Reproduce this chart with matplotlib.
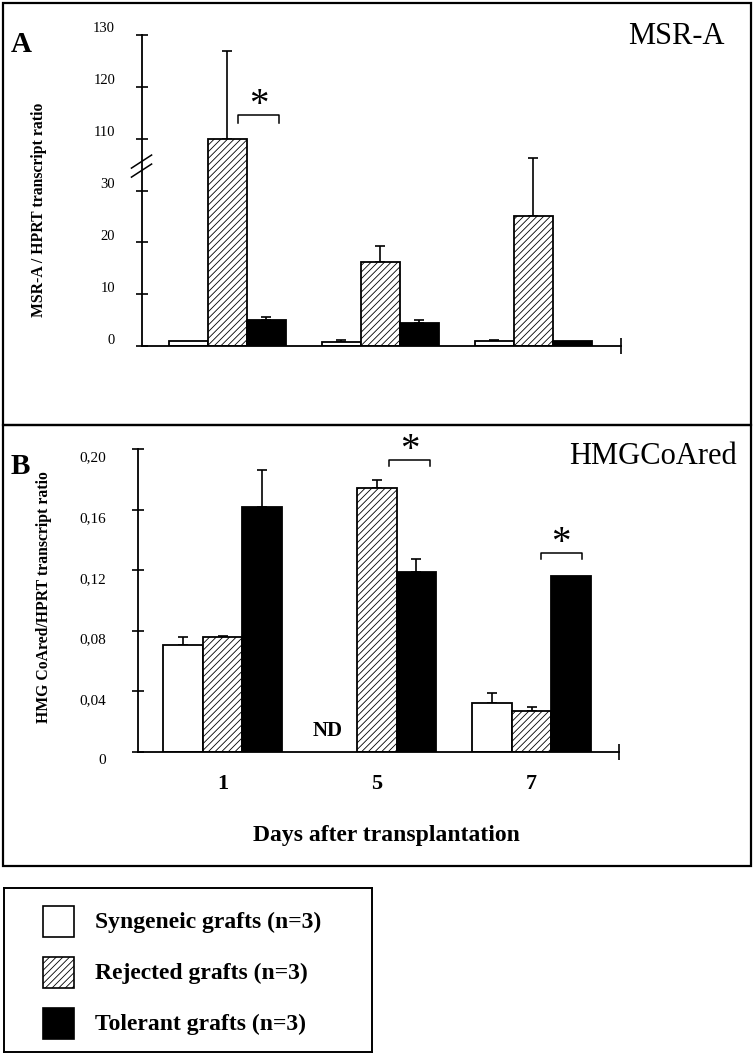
import numpy as np
import matplotlib
matplotlib.use("Agg")
import matplotlib.pyplot as plt
from matplotlib.patches import Rectangle
from matplotlib.transforms import offset_copy

plt.rcParams['font.family'] = ['Liberation Serif', 'DejaVu Serif']
plt.rcParams['hatch.linewidth'] = 0.6

# data
groups = ['Syngeneic grafts (n=3)', 'Rejected grafts (n=3)', 'Tolerant grafts (n=3)']
days = ['1', '5', '7']

# panel A: MSR-A / HPRT
msr_vals = [[1.0, 0.8, 1.0],      # syngeneic
            [110.0, 16.2, 25.0],  # rejected
            [5.1, 4.5, 1.0]]      # tolerant
msr_err = [[0.0, 0.3, 0.2],
           [17.0, 3.0, 11.2],
           [0.5, 0.5, 0.0]]
msr_ticks = [0, 10, 20, 30, 110, 120, 130]

# panel B: HMGCoAred / HPRT (ND = not determined)
hmg_vals = [[0.0706, np.nan, 0.0323],
            [0.0760, 0.1743, 0.0270],
            [0.1617, 0.1188, 0.1160]]
hmg_err = [[0.0055, 0.0, 0.0067],
           [0.0006, 0.0052, 0.0027],
           [0.0243, 0.0086, 0.0]]
hmg_ticks = [0, 0.04, 0.08, 0.12, 0.16, 0.20]
hmg_ticklabels = ['0', '0,04', '0,08', '0,12', '0,16', '0,20']

faces = ['white', 'white', 'black']
hatches = [None, '/////', None]
W, H = 754, 1054
STAR = 28


def brk(v):
    # broken y scale: values above the break are shifted down by 70
    v = np.asarray(v, dtype=float)
    return np.where(v > 100, v - 70, v)


def fig_rect(x0, y0, x1, y1):
    # pixel box -> figure fraction [left, bottom, width, height]
    return [x0 / W, 1 - y1 / H, (x1 - x0) / W, (y1 - y0) / H]


def star(ax, xc, yc):
    # centre the asterisk glyph on (xc, yc)
    tr = offset_copy(ax.transData, fig=fig, x=0, y=-0.47 * STAR, units='points')
    ax.text(xc, yc, '*', transform=tr, ha='center', va='baseline', fontsize=STAR)


fig = plt.figure(figsize=(7.54, 10.54), dpi=100)

# panel frames
for (x0, y0, x1, y1) in [(3, 3, 751, 425), (3, 425, 751, 866)]:
    fig.patches.append(Rectangle((x0 / W, 1 - y1 / H), (x1 - x0) / W, (y1 - y0) / H,
                                 transform=fig.transFigure, fill=False,
                                 edgecolor='black', linewidth=1.6))


def style_axes(ax, xmax):
    for s in ['top', 'right']:
        ax.spines[s].set_visible(False)
    for s in ['left', 'bottom']:
        ax.spines[s].set_linewidth(1.3)
    ax.tick_params(axis='y', direction='inout', length=9, width=1.2, labelleft=False)
    ax.tick_params(axis='x', which='major', length=0)
    ax.set_xticks([xmax], minor=True)
    ax.tick_params(axis='x', which='minor', direction='inout', length=12, width=1.2)


x = np.arange(3)
bw = 0.255
offs = [-bw, 0, bw]

# ---------------- panel A ----------------
axA = fig.add_axes(fig_rect(142, 35, 621, 346))
xmaxA = 2.575
axA.set_xlim(-0.556, xmaxA)
axA.set_ylim(0, 60)
style_axes(axA, xmaxA)
axA.set_xticks(x)
axA.set_xticklabels([])
for i in range(3):
    v = np.array(msr_vals[i])
    top = brk(v + np.array(msr_err[i]))
    axA.bar(x + offs[i], brk(v), bw, color=faces[i], edgecolor='black',
            linewidth=1.3, hatch=hatches[i], zorder=2)
    e = top - brk(v)
    m = e > 0
    axA.errorbar((x + offs[i])[m], brk(v)[m], yerr=[np.zeros(m.sum()), e[m]],
                 fmt='none', ecolor='black', elinewidth=1.2, capsize=3.6,
                 capthick=1.2, zorder=1)
axA.set_yticks(brk(msr_ticks))
labA = offset_copy(axA.get_yaxis_transform(), fig=fig, x=0, y=6, units='dots')
for t in msr_ticks:
    axA.text(-0.056, float(brk(t)), str(t), transform=labA, ha='right',
             va='center', fontsize=10.5)
# axis break marks
for yc in [0.593, 0.564]:
    axA.plot([-0.022, 0.020], [yc - 0.021, yc + 0.021], transform=axA.transAxes,
             color='black', linewidth=1.1, clip_on=False)
# significance bracket day 1
yb = float(brk(114.5))
axA.plot([0.072, 0.072, 0.34, 0.34], [yb - 1.4, yb, yb, yb - 1.4],
         color='black', linewidth=1.1, clip_on=False)
star(axA, 0.206, yb + 3.5)
axA.set_ylabel('MSR-A / HPRT transcript ratio', fontsize=11.3, fontweight='bold')
axA.yaxis.set_label_coords(-0.199, 0.437)
fig.text(11 / W, 1 - 44 / H, 'A', fontsize=21, fontweight='bold', ha='left', va='center')
fig.text(725 / W, 1 - 36 / H, 'MSR-A', fontsize=22, ha='right', va='center')

# ---------------- panel B ----------------
axB = fig.add_axes(fig_rect(138, 449, 619, 752))
xmaxB = 2.566
axB.set_xlim(-0.547, xmaxB)
axB.set_ylim(0, 0.2)
style_axes(axB, xmaxB)
for i in range(3):
    v = np.array(hmg_vals[i])
    e = np.array(hmg_err[i])
    axB.bar(x + offs[i], v, bw, color=faces[i], edgecolor='black',
            linewidth=1.3, hatch=hatches[i], zorder=2)
    m = (e > 0) & ~np.isnan(v)
    axB.errorbar((x + offs[i])[m], v[m], yerr=[np.zeros(m.sum()), e[m]],
                 fmt='none', ecolor='black', elinewidth=1.2, capsize=3.6,
                 capthick=1.2, zorder=1)
axB.set_yticks(hmg_ticks)
labB = offset_copy(axB.get_yaxis_transform(), fig=fig, x=0, y=-9, units='dots')
for t, s in zip(hmg_ticks, hmg_ticklabels):
    axB.text(-0.066, t, s, transform=labB, ha='right', va='center', fontsize=11)
axB.set_xticks(x)
axB.set_xticklabels(days, fontsize=16, fontweight='bold')
axB.tick_params(axis='x', which='major', pad=16)
axB.text(0.683, 0.014, 'ND', ha='center', va='center',
         fontsize=15, fontweight='bold')
# significance brackets
for xl, xr, yb in [(1.08, 1.345, 0.1925), (2.06, 2.325, 0.1315)]:
    axB.plot([xl, xl, xr, xr], [yb - 0.004, yb, yb, yb - 0.004],
             color='black', linewidth=1.1, clip_on=False)
    star(axB, (xl + xr) / 2, yb + 0.012)
axB.set_ylabel('HMG CoAred/HPRT transcript ratio', fontsize=11.3, fontweight='bold')
axB.yaxis.set_label_coords(-0.178, 0.512)
axB.set_xlabel('Days after transplantation', fontsize=17, fontweight='bold')
axB.xaxis.set_label_coords(0.516, -0.242)
fig.text(11 / W, 1 - 467 / H, 'B', fontsize=21, fontweight='bold', ha='left', va='center')
fig.text(737 / W, 1 - 457 / H, 'HMGCoAred', fontsize=22, ha='right', va='center')

# ---------------- legend box ----------------
axL = fig.add_axes(fig_rect(4, 888, 372, 1052))
axL.set_xlim(0, 368)
axL.set_ylim(164, 0)
axL.set_xticks([])
axL.set_yticks([])
for s in axL.spines.values():
    s.set_linewidth(1.4)
for i, g in enumerate(groups):
    y0 = 18 + i * 51
    axL.add_patch(Rectangle((39, y0), 31, 31, facecolor=faces[i], edgecolor='black',
                            linewidth=1.2, hatch=hatches[i]))
    axL.text(91, y0 + 16, g, ha='left', va='center', fontsize=17, fontweight='bold')

fig.savefig('out.png', dpi=100)
